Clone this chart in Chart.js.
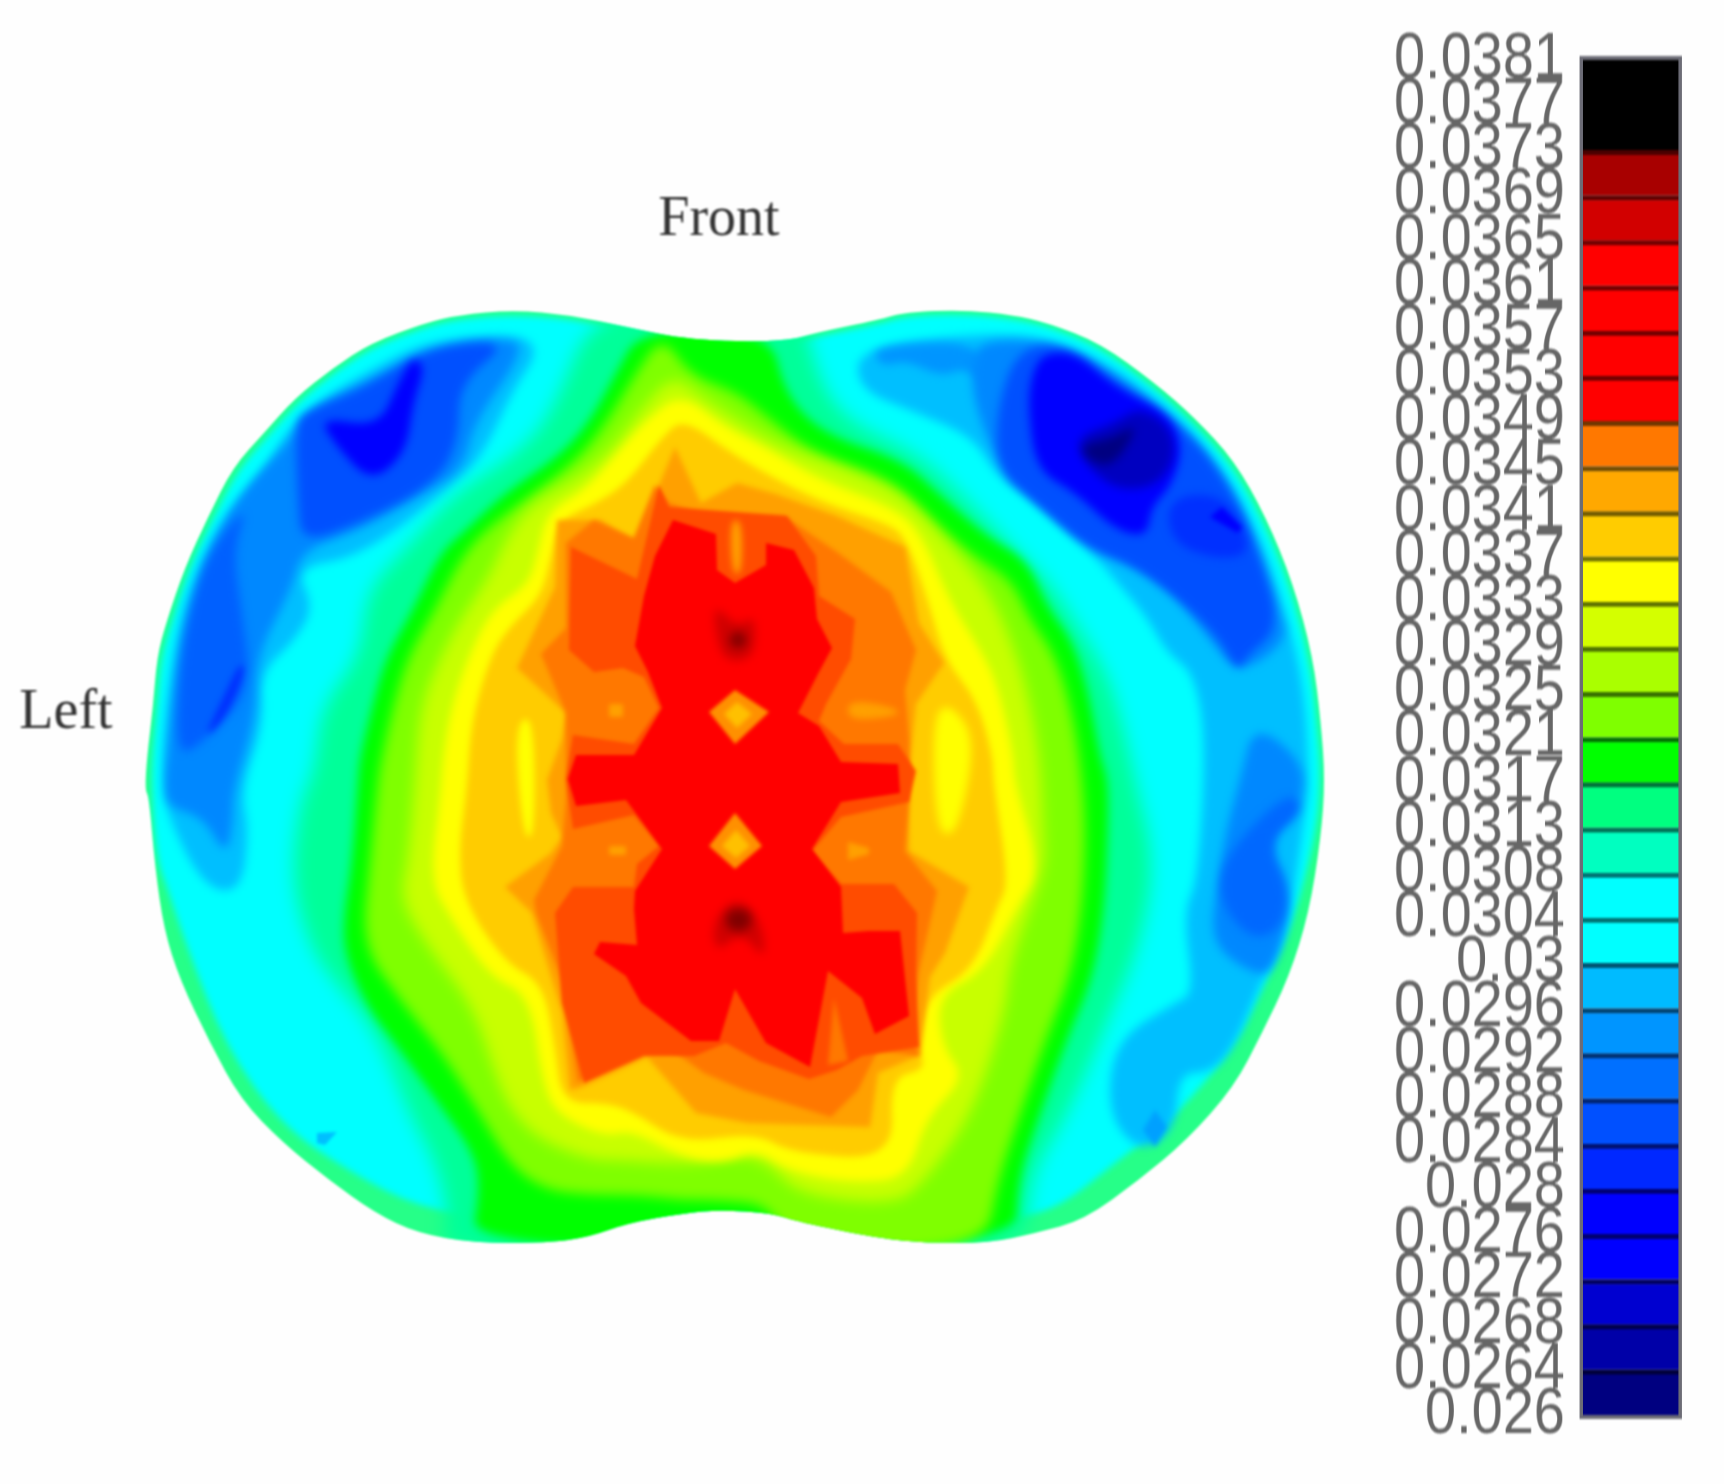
<!DOCTYPE html>
<html>
<head>
<meta charset="utf-8">
<title>Contour</title>
<script src="https://cdn.jsdelivr.net/npm/chart.js@4/dist/chart.umd.min.js"></script>
<style>
    html, body { margin: 0; padding: 0; background: #fefefe; width: 1724px; height: 1484px; overflow: hidden; }
    canvas { position: absolute; top: 0; filter: blur(0.8px); }
    #contour { left: 0; }
    /* the tick digits are narrower than any installed font, so this canvas is squeezed */
    #scale { left: 1380px; transform: scaleX(0.86); transform-origin: left top; }
</style>
</head>
<body>
<canvas id="contour" width="1380" height="1484"></canvas>
<canvas id="scale" width="400" height="1484"></canvas>
<script>
// Contour edges, in plot units
const outlineEdge = [[513,310],[459,315],[425,323],[371,343],[333,368],[295,398],[264,433],[233,467],[208,517],[185,567],[166,623],[157,657],[153,707],[147,757],[145,790],[149,797],[155,867],[164,930],[180,980],[210,1043],[241,1100],[283,1143],[329,1180],[375,1213],[417,1233],[474,1243],[547,1243],[589,1237],[628,1223],[685,1213],[720,1210],[771,1213],[799,1222],[878,1238],[926,1243],[989,1243],[1036,1233],[1084,1220],[1139,1180],[1187,1140],[1234,1087],[1262,1033],[1289,977],[1309,913],[1321,837],[1325,780],[1321,723],[1313,657],[1293,583],[1266,517],[1234,460],[1194,417],[1155,383],[1100,343],[1048,323],[1013,315],[965,310],[906,312],[878,320],[819,332],[783,342],[689,340],[627,327],[570,315]];
const cyanEdge = [[513,315],[459,319],[425,327],[373,347],[335,372],[298,402],[268,436],[238,470],[212,520],[189,568],[171,624],[161,658],[157,707],[152,757],[152,797],[157,860],[168,890],[187,947],[226,1047],[283,1127],[352,1173],[417,1207],[500,1220],[1000,1220],[1056,1210],[1115,1163],[1175,1117],[1234,1047],[1258,997],[1293,923],[1315,837],[1321,780],[1317,723],[1309,657],[1289,583],[1262,518],[1230,462],[1190,420],[1152,386],[1098,346],[1047,326],[1012,319],[965,314],[906,316],[878,324],[819,336],[783,346],[689,345],[627,331],[570,319]];

const skyLeft = [[517,333],[429,340],[375,367],[298,413],[260,477],[218,523],[187,590],[172,657],[163,740],[164,780],[166,813],[203,887],[241,893],[249,830],[241,790],[264,723],[260,673],[295,640],[314,607],[295,567],[360,557],[448,490],[482,457],[513,390],[540,350]];
const azureLeft = [[517,337],[436,347],[390,370],[310,410],[291,440],[237,497],[207,557],[187,617],[176,673],[168,750],[164,783],[168,807],[203,817],[226,857],[233,823],[233,790],[256,717],[256,657],[291,590],[302,550],[360,530],[417,497],[463,470],[474,423],[520,357]];
const blueLeftTop = [[513,340],[429,347],[367,387],[310,410],[295,423],[298,503],[302,543],[360,523],[436,483],[459,440],[459,383]];
const blueLeftSide = [[249,503],[210,550],[191,607],[180,667],[176,757],[203,743],[252,690],[241,607],[233,550]];
const deepLeftTop = [[413,357],[398,383],[379,427],[318,417],[337,447],[371,483],[406,453],[413,403],[425,367]];
const deepLeftSide = [[241,660],[222,700],[203,740],[226,717],[245,673]];

const skyRight = [[858,347],[981,333],[1052,337],[1115,367],[1183,420],[1230,477],[1262,540],[1285,607],[1305,690],[1309,790],[1305,813],[1289,930],[1262,980],[1234,1047],[1210,1073],[1179,1073],[1175,1130],[1139,1153],[1107,1113],[1115,1040],[1175,1003],[1194,993],[1183,913],[1198,880],[1206,740],[1194,673],[1167,653],[1147,617],[1115,580],[1096,557],[1036,503],[997,477],[973,437],[918,413],[858,390]];
const azureTop = [[870,347],[981,340],[989,390],[965,367],[941,377],[906,360],[882,367]];
const azureRight = [[981,340],[1052,342],[1115,373],[1183,427],[1226,480],[1254,540],[1277,607],[1289,640],[1240,675],[1210,640],[1167,583],[1096,547],[1036,500],[997,463],[973,400],[973,363]];
const azureLower = [[1254,722],[1305,763],[1301,807],[1266,840],[1293,893],[1274,973],[1250,973],[1210,943],[1218,880],[1226,830],[1240,780]];
const blueRightTop = [[1017,350],[1060,343],[1115,380],[1187,430],[1230,487],[1258,550],[1281,627],[1246,657],[1238,673],[1214,630],[1139,567],[1088,550],[1036,503],[997,470],[997,407]];
const blueRightSide = [[1289,790],[1226,853],[1218,900],[1250,940],[1281,930],[1289,890],[1266,843],[1305,810]];
const royalRight = [[1167,497],[1226,493],[1254,553],[1218,560],[1171,543]];
const deepRightTop = [[1044,353],[1076,353],[1115,387],[1167,413],[1183,447],[1171,487],[1151,507],[1147,537],[1115,530],[1076,493],[1036,470],[1028,407],[1032,373]];
const deepRightDot = [[1210,517],[1222,507],[1242,527],[1238,533]];
const navyRight = [[1076,437],[1115,423],[1139,407],[1171,427],[1175,460],[1155,487],[1115,490],[1084,463]];
const darkRight = [[1076,447],[1115,437],[1139,423],[1119,460],[1100,467]];
const skyDotRight = [[1155,1110],[1143,1130],[1155,1147],[1167,1127]];
const skyDotLeft = [[317,1133],[337,1132],[325,1145],[317,1143]];

const springEdge = [[597,300],[800,300],[819,383],[850,423],[918,453],[965,497],[1009,543],[1048,580],[1076,623],[1107,673],[1122,723],[1135,780],[1155,863],[1139,947],[1111,1013],[1068,1113],[1028,1180],[1028,1260],[440,1260],[448,1213],[436,1163],[409,1113],[375,1030],[333,980],[310,947],[291,880],[300,800],[314,773],[321,707],[360,657],[367,590],[405,550],[455,493],[513,457],[551,417]];
const greenEdge = [[640,330],[770,330],[785,395],[825,435],[902,460],[940,495],[987,537],[1027,560],[1047,607],[1072,640],[1088,690],[1100,757],[1108,780],[1108,830],[1104,913],[1092,980],[1068,1036],[1036,1125],[1018,1180],[1015,1250],[470,1250],[480,1190],[474,1153],[436,1100],[398,1047],[367,1007],[344,953],[344,913],[352,863],[358,780],[360,757],[372,707],[386,657],[413,610],[440,553],[466,530],[505,493],[558,457],[589,423],[616,373]];
const limeEdge = [[662,335],[690,375],[736,392],[765,415],[815,455],[890,480],[925,515],[972,555],[1012,580],[1030,620],[1052,650],[1068,695],[1080,757],[1086,830],[1082,910],[1070,978],[1048,1033],[1018,1120],[998,1180],[985,1250],[790,1250],[770,1205],[720,1200],[680,1200],[640,1195],[590,1195],[545,1190],[510,1165],[475,1105],[440,1050],[400,1000],[362,945],[370,863],[378,780],[382,757],[393,707],[408,657],[435,610],[460,560],[485,530],[525,500],[575,462],[605,425],[635,375]];
const pearEdge = [[672,375],[700,395],[745,425],[790,450],[850,470],[905,495],[945,540],[985,585],[1005,625],[1025,680],[1040,757],[1043,830],[1045,870],[1010,960],[1005,1013],[973,1113],[926,1180],[895,1205],[800,1195],[770,1165],[745,1155],[690,1165],[620,1160],[590,1160],[540,1140],[513,1113],[497,1080],[474,1007],[430,950],[400,900],[408,860],[415,780],[420,707],[440,657],[460,620],[490,575],[505,540],[530,505],[575,480],[610,450],[640,410]];
const yellowEdge = [[681,393],[725,427],[765,447],[820,480],[895,508],[922,535],[950,602],[982,652],[998,686],[1014,757],[1014,780],[1040,870],[1017,908],[984,972],[938,995],[942,1047],[966,1077],[926,1118],[908,1178],[854,1183],[791,1172],[756,1150],[723,1163],[681,1157],[631,1130],[605,1137],[558,1115],[543,1085],[530,995],[490,977],[450,917],[430,880],[440,797],[443,757],[451,707],[470,652],[493,608],[528,585],[537,555],[547,512],[585,490],[618,452],[646,420]];
const amberEdge = [[684,418],[736,457],[815,500],[886,523],[906,537],[930,607],[945,660],[977,700],[993,757],[993,780],[1009,883],[997,907],[973,970],[926,997],[918,1047],[926,1070],[890,1077],[894,1160],[791,1153],[756,1133],[681,1143],[635,1113],[608,1103],[562,1103],[555,1047],[543,983],[505,963],[463,900],[459,847],[467,790],[471,723],[490,657],[509,627],[541,597],[551,557],[559,520],[597,503],[627,483],[662,437]];
const yellowStripLeft = [[514,726],[534,713],[535,837],[523,837]];
const yellowStripRight = [[934,713],[951,704],[976,739],[959,829],[941,837],[934,793]];
const orangeEdge = [[675,447],[701,503],[737,483],[776,494],[837,516],[905,547],[919,623],[944,663],[916,704],[908,780],[909,851],[969,887],[945,953],[930,977],[920,1055],[878,1073],[870,1127],[748,1123],[696,1113],[647,1057],[582,1087],[570,1090],[562,1013],[547,963],[532,913],[505,887],[551,853],[562,837],[551,813],[547,780],[562,739],[566,713],[541,690],[517,668],[555,587],[557,520],[601,520],[634,543],[659,485]];
const tangerineEdge = [[669,503],[701,514],[784,516],[837,552],[891,592],[916,650],[905,690],[909,739],[909,802],[905,851],[937,891],[919,971],[912,1025],[919,1056],[878,1050],[858,1090],[831,1117],[744,1090],[704,1073],[644,1030],[578,1083],[562,980],[536,913],[534,900],[562,846],[566,800],[566,739],[566,713],[541,654],[566,628],[566,543],[594,520],[634,538],[655,485]];
const spotLeftUpper = [[609,704],[623,704],[623,717],[609,717]];
const spotLeftLower = [[609,846],[626,846],[626,855],[609,855]];
const spotRightUpper = [[848,699],[898,708],[898,716],[848,721]];
const spotRightLower = [[848,842],[869,848],[869,854],[848,860]];
const scarletEdge = [[669,507],[787,516],[816,556],[819,596],[855,619],[851,659],[826,704],[819,721],[844,744],[898,744],[916,771],[909,802],[841,817],[812,851],[841,884],[894,884],[917,913],[916,976],[919,1047],[862,1056],[837,1070],[809,1079],[759,1061],[726,1043],[694,1056],[644,1056],[584,1083],[562,1003],[555,913],[573,887],[634,887],[637,864],[659,846],[634,815],[573,829],[566,779],[573,735],[634,744],[659,708],[644,677],[623,668],[594,672],[569,650],[571,547],[637,579],[659,485]];
const wedgeLower = [[834,998],[848,1061],[828,1065]];
const redEdge = [[673,520],[716,534],[717,570],[735,583],[766,565],[766,543],[794,550],[814,588],[817,619],[832,648],[819,672],[798,713],[819,726],[841,762],[898,764],[900,793],[841,802],[812,849],[841,887],[843,933],[869,931],[900,931],[909,1016],[875,1034],[862,998],[828,971],[810,1067],[766,1043],[735,989],[719,1041],[691,1041],[641,1003],[626,976],[594,954],[600,942],[637,945],[634,909],[635,891],[662,849],[626,800],[576,806],[568,779],[576,755],[634,755],[662,708],[648,672],[635,646],[644,596],[655,556]];
const notchUpper = [[730,520],[742,520],[742,574],[732,574]];
const diamondUpper = [[709,712],[735,690],[769,712],[735,744]];
const diamondLower = [[709,846],[735,813],[762,846],[735,869]];
const coreDiamondUpper = [[724,714],[737,702],[752,714],[737,728]];
const coreDiamondLower = [[722,846],[736,830],[750,846],[736,858]];
const maroonUpper = [[712,601],[737,628],[755,614],[755,654],[737,663],[719,654]];
const maroonLower = [[712,922],[737,896],[762,922],[766,962],[741,931],[716,954]];
const blackUpper = [[730,632],[746,632],[746,648],[730,648]];
const blackLower = [[726,909],[751,909],[751,931],[726,931]];

const sideLabels = ['Front', 'Left'];

// Colour scale
const tickLabels = ['0.026','0.0264','0.0268','0.0272','0.0276','0.028','0.0284','0.0288','0.0292','0.0296','0.03','0.0304','0.0308','0.0313','0.0317','0.0321','0.0325','0.0329','0.0333','0.0337','0.0341','0.0345','0.0349','0.0353','0.0357','0.0361','0.0365','0.0369','0.0373','0.0377','0.0381'];
const bandColors = ['#000080','#0000a8','#0000d0','#0000ff','#0000ff','#0028ff','#0050ff','#0070ff','#0095ff','#00bbff','#00ffff','#00ffff','#00ffc0','#00ff80','#00ff00','#7fff00','#aaff00','#d4ff00','#ffff00','#ffcc00','#ffa800','#ff7800','#ff0000','#ff0000','#ff0000','#ff0000','#d20000','#a80000','#000000','#000000'];

// [edge, fill, softness], painted in this order
const contourLayers = [
    [cyanEdge, '#00ffff', 3],
    [skyLeft, '#00bfff', 5], [skyRight, '#00bfff', 5], [skyDotLeft, '#00bfff', 1], [skyDotRight, '#00a0ff', 2],
    [azureTop, '#0095ff', 4], [azureLeft, '#0088ff', 5], [azureRight, '#0088ff', 5], [azureLower, '#0088ff', 5],
    [blueLeftTop, '#0050ff', 5], [blueLeftSide, '#0060ff', 5], [blueRightTop, '#0050ff', 5], [blueRightSide, '#0068ff', 5],
    [royalRight, '#0030ff', 4], [deepLeftTop, '#0000ff', 4], [deepLeftSide, '#0030ff', 3],
    [deepRightTop, '#0000ff', 4], [deepRightDot, '#0000ff', 2],
    [navyRight, '#0000c0', 5], [darkRight, '#000080', 5],
    [springEdge, '#00ff99', 9], [greenEdge, '#00ff00', 5], [limeEdge, '#7fff00', 6], [pearEdge, '#c8ff00', 7],
    [yellowEdge, '#ffff00', 4], [amberEdge, '#ffcc00', 3], [yellowStripLeft, '#ffff00', 3], [yellowStripRight, '#ffff00', 4],
    [orangeEdge, '#ffa000', 2.5], [tangerineEdge, '#ff7800', 2],
    [spotLeftUpper, '#ffa000', 2], [spotLeftLower, '#ffa000', 2], [spotRightUpper, '#ffa000', 3], [spotRightLower, '#ffa000', 2],
    [scarletEdge, '#ff4c00', 1.5], [wedgeLower, '#ff7800', 2], [redEdge, '#ff0000', 1], [notchUpper, '#ffa000', 3],
    [diamondUpper, '#ff9000', 1.5], [diamondLower, '#ff9000', 1.5], [coreDiamondUpper, '#ffc000', 2], [coreDiamondLower, '#ffc000', 2],
    [maroonUpper, '#d00000', 5], [maroonLower, '#d00000', 5], [blackUpper, '#800000', 5], [blackLower, '#800000', 5]
];

const toPoints = edge => edge.map(([x, y]) => ({ x: x, y: y }));

const tracePoints = (ctx, points) => {
    ctx.beginPath();
    points.forEach((p, i) => (i ? ctx.lineTo(p.x, p.y) : ctx.moveTo(p.x, p.y)));
    ctx.closePath();
};

// Rounded version for the outer bands, corners become curve control points
const traceRounded = (ctx, points) => {
    const mid = (a, b) => ({ x: (a.x + b.x) / 2, y: (a.y + b.y) / 2 });
    const start = mid(points[points.length - 1], points[0]);
    ctx.beginPath();
    ctx.moveTo(start.x, start.y);
    points.forEach((p, i) => {
        const m = mid(p, points[(i + 1) % points.length]);
        ctx.quadraticCurveTo(p.x, p.y, m.x, m.y);
    });
    ctx.closePath();
};

// Chart.js has no closed polygon fill, so the points it placed get filled here
const contourFill = {
    id: 'contourFill',
    beforeDatasetsDraw(chart) {
        const ctx = chart.ctx;
        const metas = chart.getSortedVisibleDatasetMetas();
        ctx.save();
        traceRounded(ctx, metas[0].data);
        ctx.fillStyle = '#26ff88';
        ctx.fill();
        ctx.clip();
        metas.slice(1).forEach(meta => {
            const layer = contourLayers[meta.index - 1];
            if (layer[2] >= 3) {
                traceRounded(ctx, meta.data);
            } else {
                tracePoints(ctx, meta.data);
            }
            ctx.filter = `blur(${layer[2]}px)`;
            ctx.fillStyle = layer[1];
            ctx.fill();
        });
        ctx.restore();
    },
    afterDatasetsDraw(chart) {
        const ctx = chart.ctx;
        ctx.save();
        ctx.font = '56px "Liberation Serif"';
        ctx.fillStyle = '#333333';
        ctx.textAlign = 'center';
        ctx.textBaseline = 'middle';
        ctx.fillText(sideLabels[0], chart.scales.x.getPixelForValue(719), chart.scales.y.getPixelForValue(220));
        ctx.fillText(sideLabels[1], chart.scales.x.getPixelForValue(66), chart.scales.y.getPixelForValue(713));
        ctx.restore();
    }
};

new Chart(document.getElementById('contour'), {
    type: 'scatter',
    data: {
        datasets: [outlineEdge].concat(contourLayers.map(l => l[0])).map(edge => ({
            data: toPoints(edge),
            showLine: false,
            pointRadius: 0
        }))
    },
    options: {
        responsive: false,
        animation: false,
        layout: { padding: 0 },
        plugins: { legend: { display: false }, tooltip: { enabled: false } },
        scales: {
            x: { type: 'linear', display: false, min: 0, max: 1380 },
            y: { type: 'linear', display: false, reverse: true, min: 0, max: 1484 }
        }
    },
    plugins: [contourFill]
});

// Dark line between two bands
const shade = hex => {
    const n = parseInt(hex.slice(1), 16);
    return `rgb(${(n >> 16) * 0.45 | 0},${((n >> 8) & 255) * 0.45 | 0},${(n & 255) * 0.45 | 0})`;
};

const scaleFrame = {
    id: 'scaleFrame',
    afterDatasetsDraw(chart) {
        const a = chart.chartArea;
        const ctx = chart.ctx;
        ctx.save();
        ctx.strokeStyle = '#6c6c76';
        ctx.lineWidth = 4;
        ctx.strokeRect(a.left - 2, a.top - 2, a.width + 4, a.height + 4);
        ctx.restore();
    }
};

new Chart(document.getElementById('scale'), {
    type: 'bar',
    data: {
        labels: [''],
        datasets: bandColors.map((color, i) => ({
            data: [1],
            backgroundColor: color,
            borderColor: shade(color),
            borderWidth: { top: i === bandColors.length - 1 ? 0 : 5, bottom: 0, left: 0, right: 0 },
            borderSkipped: false,
            barPercentage: 1,
            categoryPercentage: 1
        }))
    },
    options: {
        responsive: false,
        animation: false,
        layout: { padding: { left: 0, right: 53, top: 57, bottom: 69 } },
        plugins: { legend: { display: false }, tooltip: { enabled: false } },
        scales: {
            x: { stacked: true, display: false },
            y: {
                stacked: true,
                min: 0,
                max: bandColors.length,
                grid: { display: false, drawTicks: false },
                border: { display: false },
                afterFit(axis) { axis.width = 236; },
                ticks: {
                    stepSize: 1,
                    autoSkip: false,
                    padding: 21,
                    color: '#666666',
                    font: { family: '"Liberation Sans"', size: 65 },
                    callback: value => tickLabels[value]
                }
            }
        }
    },
    plugins: [scaleFrame]
});
</script>
</body>
</html>
